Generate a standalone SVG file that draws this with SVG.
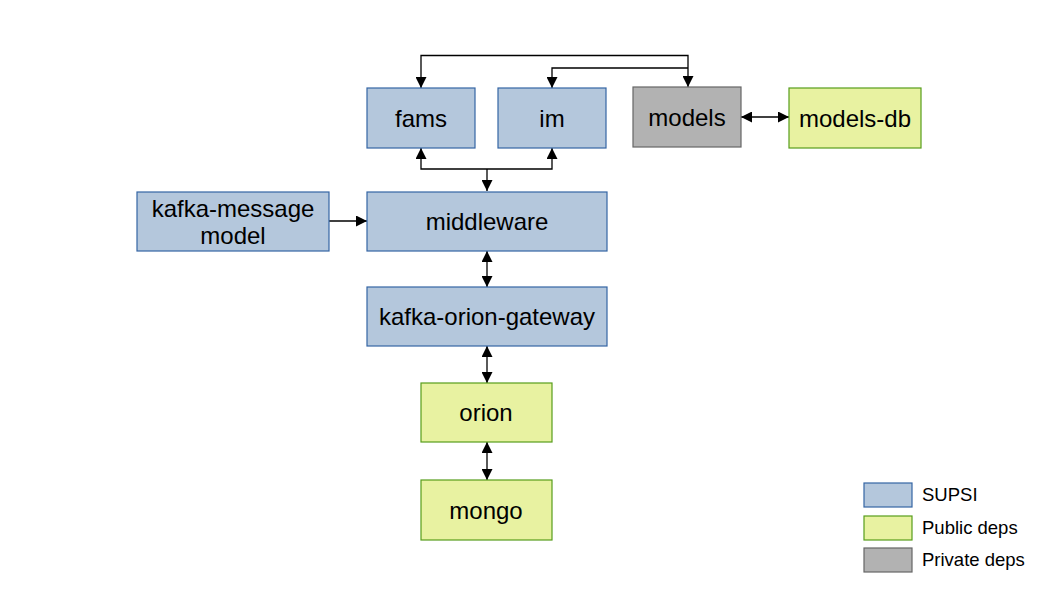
<svg xmlns="http://www.w3.org/2000/svg" width="1058" height="595" viewBox="0 0 1058 595">
<style>
.blue{fill:#b4c7dc;stroke:#3465a4;stroke-width:1.2}
.green{fill:#e8f2a1;stroke:#579d1c;stroke-width:1.2}
.gray{fill:#b2b2b2;stroke:#666666;stroke-width:1.2}
text{font-family:"Liberation Sans",Arial,sans-serif;fill:#000}
.n{font-size:24px;text-anchor:middle;dominant-baseline:central}
.l{font-size:18.5px}
.c{fill:none;stroke:#000;stroke-width:1.3}
</style>
<defs>
<marker id="ah" viewBox="0 0 10 10" refX="10" refY="5" markerWidth="11" markerHeight="11" markerUnits="userSpaceOnUse" orient="auto-start-reverse">
<path d="M0,0 L10,5 L0,10 Z" fill="#000"/>
</marker>
</defs>
<rect width="1058" height="595" fill="#fff"/>
<g id="connectors">
<path class="c" d="M688,87 V55.5 H421 V88" marker-start="url(#ah)" marker-end="url(#ah)"/>
<path class="c" d="M688,68 H552 V88" marker-end="url(#ah)"/>
<path class="c" d="M741,117 H789" marker-start="url(#ah)" marker-end="url(#ah)"/>
<path class="c" d="M487,191 V169" marker-start="url(#ah)"/>
<path class="c" d="M421,148 V169 H552 V148" marker-start="url(#ah)" marker-end="url(#ah)"/>
<path class="c" d="M329,221 H367" marker-end="url(#ah)"/>
<path class="c" d="M487,251 V287" marker-start="url(#ah)" marker-end="url(#ah)"/>
<path class="c" d="M487,346 V383" marker-start="url(#ah)" marker-end="url(#ah)"/>
<path class="c" d="M487,442 V480" marker-start="url(#ah)" marker-end="url(#ah)"/>
</g>
<g id="fams"><rect class="blue" x="367" y="88" width="108" height="60"/><text class="n" x="421" y="118">fams</text></g>
<g id="im"><rect class="blue" x="498" y="88" width="108" height="60"/><text class="n" x="552" y="118">im</text></g>
<g id="models"><rect class="gray" x="633" y="87" width="108" height="60"/><text class="n" x="687" y="117">models</text></g>
<g id="models-db"><rect class="green" x="789" y="88" width="132" height="60"/><text class="n" x="855" y="118">models-db</text></g>
<g id="kafka-message-model"><rect class="blue" x="137" y="192" width="192" height="59"/><text class="n" x="233" y="208">kafka-message</text><text class="n" x="233" y="235">model</text></g>
<g id="middleware"><rect class="blue" x="367" y="192" width="240" height="59"/><text class="n" x="487" y="221">middleware</text></g>
<g id="kafka-orion-gateway"><rect class="blue" x="367" y="287" width="240" height="59"/><text class="n" x="487" y="316">kafka-orion-gateway</text></g>
<g id="orion"><rect class="green" x="421" y="383" width="131" height="59"/><text class="n" x="486" y="412">orion</text></g>
<g id="mongo"><rect class="green" x="421" y="480" width="131" height="60"/><text class="n" x="486" y="510">mongo</text></g>
<g id="legend">
<rect class="blue" x="864" y="483" width="48" height="24"/><text class="l" x="922" y="501">SUPSI</text>
<rect class="green" x="864" y="516" width="48" height="24"/><text class="l" x="922" y="534">Public deps</text>
<rect class="gray" x="864" y="548" width="48" height="24"/><text class="l" x="922" y="566">Private deps</text>
</g>
</svg>
